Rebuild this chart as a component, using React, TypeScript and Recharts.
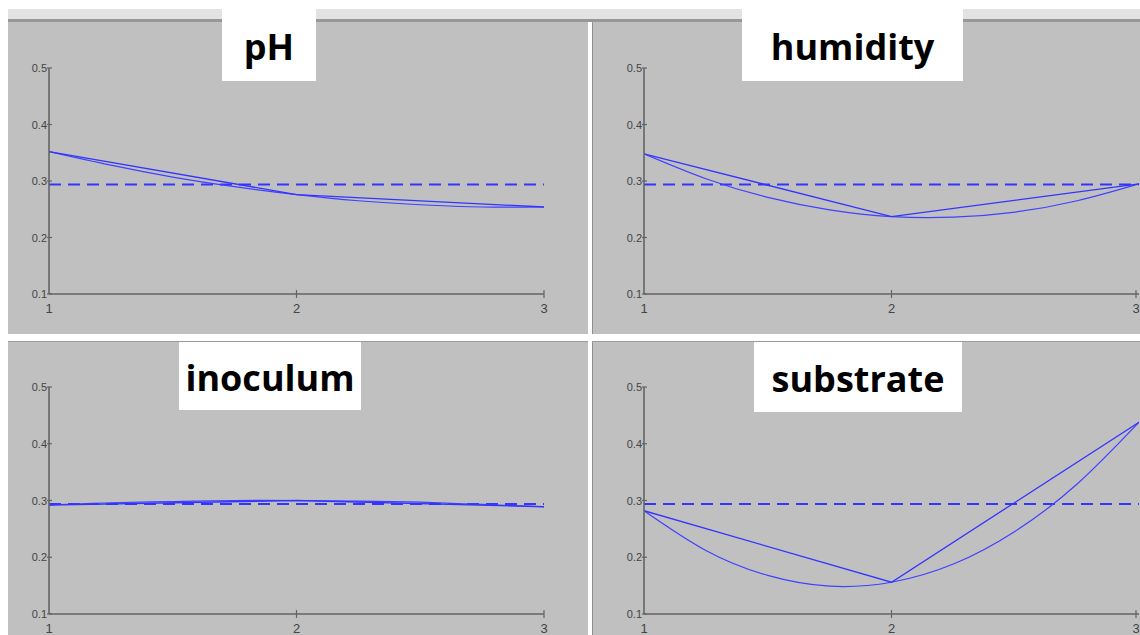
import React from 'react';
import { LineChart, Line, XAxis, YAxis, ReferenceLine } from 'recharts';

// factor levels (x) and the fitted points
const levels = [1, 2, 3];
const curveX = [1, 1.25, 1.5, 1.75, 2, 2.25, 2.5, 2.75, 3];
const xTicks = [1, 2, 3];
const yTicks = [0.1, 0.2, 0.3, 0.4, 0.5];
const meanLevel = 0.294;

const phLine = [0.352, 0.276, 0.254];
const phCurve = [0.352, 0.328, 0.307, 0.29, 0.276, 0.265, 0.258, 0.254, 0.254];

const humidityLine = [0.348, 0.237, 0.295];
const humidityCurve = [0.348, 0.304, 0.271, 0.249, 0.237, 0.236, 0.245, 0.265, 0.295];

const inoculumLine = [0.292, 0.3, 0.289];
const inoculumCurve = [0.292, 0.296, 0.298, 0.3, 0.3, 0.299, 0.297, 0.293, 0.289];

const substrateLine = [0.282, 0.156, 0.438];
const substrateCurve = [0.282, 0.212, 0.168, 0.149, 0.156, 0.188, 0.246, 0.329, 0.438];

const toPoints = (xs: number[], ys: number[]) => xs.map((x, i) => ({ x, y: ys[i] }));

const BLUE = '#3434ff';
const AXIS = '#646464';

const YTick = (props: any) => {
  const { x, y, payload } = props;
  return (
    <g>
      <line x1={x - 2} x2={x + 3} y1={y} y2={y} stroke={AXIS} strokeWidth={1.2} />
      <text x={x - 2} y={y} dy={4} textAnchor="end" fontSize={11} fill="#444"
        fontFamily="Liberation Sans, Arial, sans-serif">
        {Number(payload.value).toFixed(1)}
      </text>
    </g>
  );
};

const XTick = (props: any) => {
  const { x, y, payload } = props;
  return (
    <g>
      {payload.value !== 1 && <line x1={x} x2={x} y1={y - 4} y2={y + 4} stroke={AXIS} strokeWidth={1.2} />}
      <text x={x} y={y} dy={19} textAnchor="middle" fontSize={13} fill="#444"
        fontFamily="Liberation Sans, Arial, sans-serif">
        {payload.value}
      </text>
    </g>
  );
};

type PanelProps = {
  left: number; top: number; width: number; height: number;
  axisLeft: number; plotTop: number; plotRight: number; axisHeight: number;
  line: number[]; curve: number[];
};

function Panel(p: PanelProps) {
  return (
    <div style={{ position: 'absolute', left: p.left, top: p.top, width: p.width, height: p.height, background: '#c0c0c0' }}>
      <LineChart width={p.width} height={p.height}
        margin={{ top: p.plotTop, right: p.plotRight, bottom: 0, left: 0 }}>
        <XAxis type="number" dataKey="x" domain={[1, 3]} ticks={xTicks} allowDataOverflow
          height={p.axisHeight} tickSize={0} tickMargin={0} tick={<XTick />}
          axisLine={{ stroke: AXIS, strokeWidth: 1.6 }} />
        <YAxis type="number" domain={[0.1, 0.5]} ticks={yTicks} allowDataOverflow
          width={p.axisLeft} tickSize={0} tickMargin={0} tick={<YTick />}
          axisLine={{ stroke: AXIS, strokeWidth: 1.6 }} />
        <ReferenceLine y={meanLevel} stroke={BLUE} strokeWidth={2} strokeDasharray="12 7" />
        <Line data={toPoints(curveX, p.curve)} dataKey="y" type="natural" stroke="#4040ff"
          strokeWidth={1.2} dot={false} isAnimationActive={false} />
        <Line data={toPoints(levels, p.line)} dataKey="y" type="linear" stroke={BLUE}
          strokeWidth={1.3} dot={false} isAnimationActive={false} />
      </LineChart>
    </div>
  );
}

const titleStyle: React.CSSProperties = {
  position: 'absolute', background: '#fff', display: 'flex', alignItems: 'center', justifyContent: 'center',
  fontFamily: '"Open Sans", sans-serif', fontWeight: 700, fontSize: 36, color: '#000', zIndex: 2,
  paddingTop: 2, boxSizing: 'border-box',
};

export default function App() {
  return (
    <div style={{ position: 'absolute', left: 0, top: 0, width: 1140, height: 635, background: '#fff', overflow: 'hidden' }}>
      <div style={{ position: 'absolute', left: 8, top: 9, width: 1132, height: 11, background: '#e2e2e2' }} />
      <div style={{ position: 'absolute', left: 8, top: 19, width: 1132, height: 3, background: '#979797' }} />

      <Panel left={8} top={22} width={580} height={312} axisLeft={41} plotTop={46} plotRight={44} axisHeight={40}
        line={phLine} curve={phCurve} />
      <Panel left={593} top={22} width={547} height={312} axisLeft={51} plotTop={46} plotRight={1} axisHeight={40}
        line={humidityLine} curve={humidityCurve} />
      <Panel left={8} top={342} width={580} height={293} axisLeft={41} plotTop={45} plotRight={44} axisHeight={21}
        line={inoculumLine} curve={inoculumCurve} />
      <Panel left={593} top={342} width={547} height={293} axisLeft={51} plotTop={45} plotRight={1} axisHeight={21}
        line={substrateLine} curve={substrateCurve} />

      <div style={{ position: 'absolute', left: 592, top: 22, width: 1, height: 312, background: '#8f8f8f' }} />
      <div style={{ position: 'absolute', left: 592, top: 342, width: 1, height: 293, background: '#8f8f8f' }} />
      <div style={{ position: 'absolute', left: 8, top: 341, width: 580, height: 1, background: '#9a9a9a' }} />
      <div style={{ position: 'absolute', left: 592, top: 341, width: 548, height: 1, background: '#9a9a9a' }} />

      <div style={{ ...titleStyle, left: 222, top: 9, width: 94, height: 72 }}>pH</div>
      <div style={{ ...titleStyle, left: 742, top: 9, width: 221, height: 72 }}>humidity</div>
      <div style={{ ...titleStyle, left: 179, top: 342, width: 182, height: 68 }}>inoculum</div>
      <div style={{ ...titleStyle, left: 754, top: 342, width: 208, height: 70 }}>substrate</div>
    </div>
  );
}
